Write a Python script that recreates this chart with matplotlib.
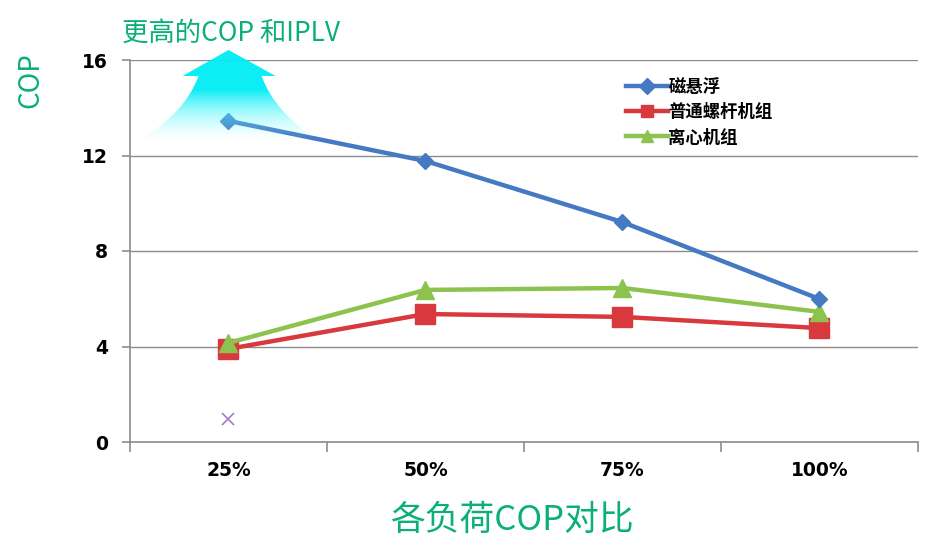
import numpy as np
import matplotlib
matplotlib.use("Agg")
import matplotlib.pyplot as plt
from matplotlib.path import Path
from matplotlib.patches import PathPatch

plt.rcParams["font.family"] = ["Noto Sans CJK SC", "DejaVu Sans"]

# ── data ──
loads = ["25%", "50%", "75%", "100%"]
maglev = [13.45, 11.77, 9.21, 5.99]      # 磁悬浮
screw = [3.90, 5.36, 5.24, 4.77]         # 普通螺杆机组
centrifugal = [4.15, 6.37, 6.45, 5.45]   # 离心机组
stray_point = 0.96                       # stray "x" at 25%
y_ticks = [0, 4, 8, 12, 16]

GREEN_TXT = "#0BAF78"
BLUE = "#4579C4"
RED = "#D8393D"
LGREEN = "#8CC34E"
GRID = "#8C8C8C"

fig = plt.figure(figsize=(9.45, 5.47), dpi=100)
ax = fig.add_axes([130 / 945, 1 - 442 / 547, 788 / 945, 382 / 547])

x = np.arange(len(loads))
ax.plot(x, maglev, color=BLUE, lw=3.2, marker="D", ms=8, label="磁悬浮", zorder=5)
ax.plot(x, screw, color=RED, lw=3.2, marker="s", ms=14, label="普通螺杆机组", zorder=3)
ax.plot(x, centrifugal, color=LGREEN, lw=3.2, marker="^", ms=13, label="离心机组", zorder=4)
ax.plot([0], [stray_point], ls="none", marker="x", ms=9, mew=1.2, color="#A27CC8", zorder=3)

# cyan gradient arrow around the first point
tip, base_y, bot_y = 16.42, 15.33, 12.65
verts = [(-0.447, bot_y), (-0.218, 13.82), (-0.152, base_y), (-0.233, base_y),
         (0.0, tip), (0.239, base_y), (0.168, base_y), (0.234, 13.82),
         (0.452, bot_y), (-0.447, bot_y)]
codes = [Path.MOVETO, Path.CURVE3, Path.CURVE3, Path.LINETO, Path.LINETO,
         Path.LINETO, Path.LINETO, Path.CURVE3, Path.CURVE3, Path.CLOSEPOLY]
arrow = PathPatch(Path(verts, codes), transform=ax.transData, facecolor="none", edgecolor="none")
n = 200
t = np.linspace(0, 1, n)[:, None]          # 0 top -> 1 bottom
fade = np.clip((t - 0.45) / 0.55, 0, 1)
grad = np.zeros((n, 2, 4))
grad[..., 0] = 0.0 + fade * 0.6
grad[..., 1] = 0.93 + fade * 0.07
grad[..., 2] = 0.96 + fade * 0.04
grad[..., 3] = 0.95 * (1 - fade ** 0.9)
im = ax.imshow(grad, extent=(-0.46, 0.46, bot_y, tip), aspect="auto", zorder=6, interpolation="bilinear")
im.set_clip_box(fig.bbox)
im.set_clip_path(arrow)

ax.set_xlim(-0.5, 3.5)
ax.set_ylim(0, 16)

# axes styling
for s in ["top", "right"]:
    ax.spines[s].set_visible(False)
for s in ["left", "bottom"]:
    ax.spines[s].set_color(GRID)
    ax.spines[s].set_linewidth(1.2)
ax.set_yticks(y_ticks)
ax.set_yticklabels([str(v) for v in y_ticks], fontsize=13.5, fontweight="bold", family="DejaVu Sans")
ax.tick_params(axis="y", length=6, width=1.2, color=GRID, pad=10)
ax.set_xticks(x)
ax.set_xticklabels(loads, fontsize=13.5, fontweight="bold", family="DejaVu Sans")
ax.set_xticks(np.arange(-0.5, len(loads)), minor=True)
ax.tick_params(axis="x", which="major", length=0, pad=14)
ax.tick_params(axis="x", which="minor", length=7, width=1.2, color=GRID)
ax.grid(axis="y", color=GRID, lw=1.0)
ax.set_axisbelow(True)

leg = ax.legend(loc="upper left", bbox_to_anchor=(489 / 788, 1 - 11 / 382), frameon=False,
                prop={"size": 12.5, "weight": "bold"}, handlelength=2.4, labelspacing=0.42,
                handletextpad=0.05, borderaxespad=0)
for h in leg.legend_handles:
    h.set_markersize(8)

fig.text(122 / 945, 1 - 33 / 547, "更高的COP 和IPLV", color=GREEN_TXT, fontsize=19, fontweight="medium",
         va="center", ha="left")
fig.text(30 / 945, 1 - 80 / 547, "COP", color=GREEN_TXT, fontsize=20, va="center", ha="center", rotation=90)
fig.text(512 / 945, 1 - 520 / 547, "各负荷COP对比", color=GREEN_TXT, fontsize=25, va="center", ha="center")

fig.savefig("out.png", dpi=100)
